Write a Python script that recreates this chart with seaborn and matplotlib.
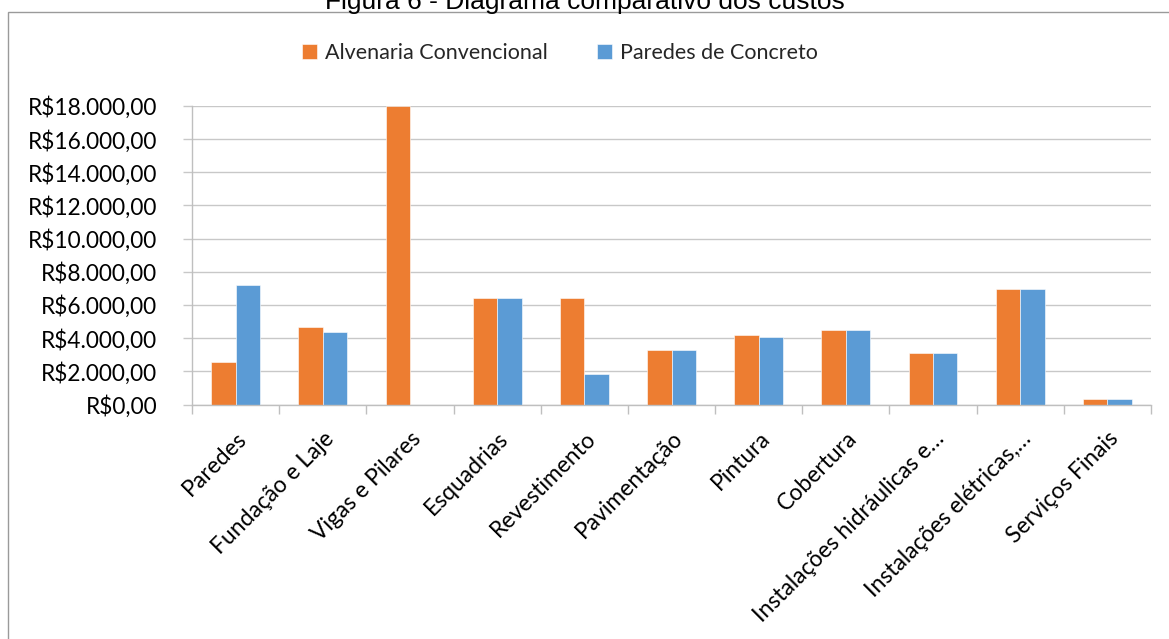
import matplotlib
matplotlib.use("Agg")
import matplotlib.pyplot as plt
import matplotlib.patches as mpatches
from matplotlib.transforms import ScaledTranslation
from matplotlib.ticker import FixedLocator, FuncFormatter
import seaborn as sns
import pandas as pd

categories = ["Paredes", "Fundação e Laje", "Vigas e Pilares", "Esquadrias",
              "Revestimento", "Pavimentação", "Pintura", "Cobertura",
              "Instalações hidráulicas e…", "Instalações elétricas,…",
              "Serviços Finais"]
alvenaria = [2550, 4650, 18000, 6450, 6450, 3280, 4180, 4480, 3100, 6950, 340]
concreto = [7200, 4350, 0, 6450, 1830, 3280, 4060, 4480, 3100, 6950, 340]
series_names = ["Alvenaria Convencional", "Paredes de Concreto"]
y_ticks = [0, 2000, 4000, 6000, 8000, 10000, 12000, 14000, 16000, 18000]
title_text = "Figura 6 - Diagrama comparativo dos custos"

df = pd.DataFrame({
    "cat": categories * 2,
    "valor": alvenaria + concreto,
    "serie": [series_names[0]] * len(categories) + [series_names[1]] * len(categories),
})

sns.set_theme(style="white")
plt.rcParams["font.family"] = ["Lato", "DejaVu Sans"]

W, H, DPI = 1169, 639, 100
fig = plt.figure(figsize=(W / DPI, H / DPI), dpi=DPI)
fig.patch.set_facecolor("white")

ax = fig.add_axes([192 / W, 1 - 404.5 / H, (1151 - 192) / W, (404.5 - 106) / H])

palette = {series_names[0]: "#ED7D31", series_names[1]: "#5B9BD5"}
sns.barplot(data=df, x="cat", y="valor", hue="serie", order=categories,
            hue_order=series_names, palette=palette, width=0.56, gap=0,
            saturation=1, edgecolor="white", linewidth=0.4, ax=ax, legend=True)

ax.set_xlim(-0.5, len(categories) - 0.5)
ax.set_ylim(0, 18000)
ax.yaxis.set_major_locator(FixedLocator(y_ticks))
ax.yaxis.set_major_formatter(FuncFormatter(
    lambda v, p: "R$" + f"{int(round(v)):,}".replace(",", ".") + ",00"))
ax.grid(axis="y", color="#c8c8c8", linewidth=1)
ax.set_axisbelow(True)
ax.set_xlabel("")
ax.set_ylabel("")

for s in ["top", "right"]:
    ax.spines[s].set_visible(False)
for s in ["left", "bottom"]:
    ax.spines[s].set_color("#bfbfbf")
    ax.spines[s].set_linewidth(1)

ax.set_xticks(range(len(categories)))
ax.set_xticklabels(categories)
ax.set_xticks([i - 0.5 for i in range(len(categories) + 1)], minor=True)
ax.tick_params(axis="x", which="minor", length=6.5, color="#bfbfbf", width=1, direction="out", bottom=True)
ax.tick_params(axis="x", which="major", length=0, pad=22, labelsize=16.5, labelcolor="#000000")
ax.tick_params(axis="y", which="major", length=6.5, color="#c8c8c8", width=1, direction="out",
               left=True, pad=18.5, labelsize=16.3, labelcolor="#000000")

offset = ScaledTranslation(8 / DPI, 0, fig.dpi_scale_trans)
for lbl in ax.get_xticklabels():
    lbl.set_rotation(45)
    lbl.set_ha("right")
    lbl.set_va("center")
    lbl.set_rotation_mode("anchor")
    lbl.set_transform(lbl.get_transform() + offset)

# legend
handles, labels = ax.get_legend_handles_labels()
ax.legend_.remove()
fig.legend(handles, labels, loc="center", bbox_to_anchor=(560 / W, 1 - 53 / H),
           ncol=2, frameon=False, fontsize=15.5, handlelength=0.7, handleheight=0.7,
           handletextpad=0.35, columnspacing=2.3, borderaxespad=0)

# chart frame
frame = mpatches.Rectangle((7.5 / W, -0.1), 1.2, 1 - 12.5 / H + 0.1, transform=fig.transFigure,
                           fill=False, edgecolor="#9a9a9a", linewidth=1)
fig.patches.append(frame)

fig.text(585 / W, 1 - 9 / H, title_text, ha="center", va="baseline",
         fontsize=19, family=["Liberation Sans", "DejaVu Sans"], color="#000000")

fig.savefig("out.png", dpi=DPI, facecolor="white")
